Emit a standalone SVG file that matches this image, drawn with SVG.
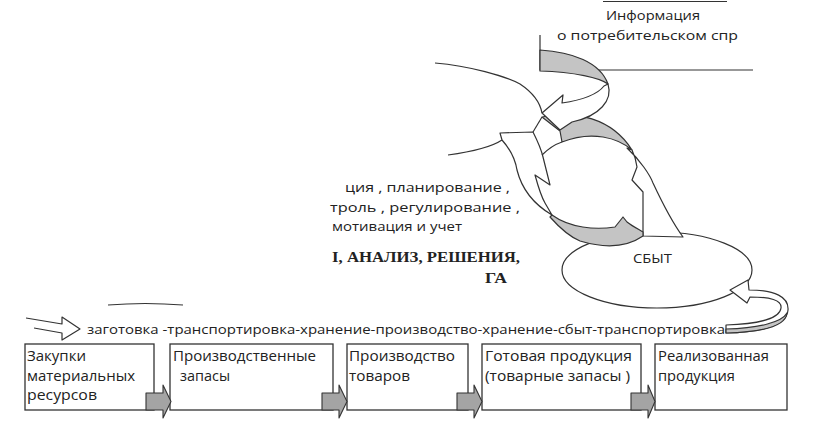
<svg xmlns="http://www.w3.org/2000/svg" width="814" height="439" viewBox="0 0 814 439">
<style>
.ln{fill:none;stroke:#333;stroke-width:1.2;stroke-linejoin:round}
.wf{fill:#fff;stroke:#333;stroke-width:1.2;stroke-linejoin:round}
.gf{fill:#c4c4c4;stroke:#333;stroke-width:1.2;stroke-linejoin:round}
.box{fill:#fff;stroke:#333;stroke-width:1.3}
.ba{fill:#a4a4a4;stroke:#333;stroke-width:1.1;stroke-linejoin:round}
.t{font-family:"Open Sans","Noto Sans","Liberation Sans",sans-serif;font-size:14px;fill:#222}
.s{font-family:"Open Sans","Noto Sans","Liberation Sans",sans-serif;font-size:13px;fill:#222}
.b{font-family:"Liberation Serif","Times New Roman",serif;font-size:15px;font-weight:bold;fill:#222}
</style>
<rect width="814" height="439" fill="#fff"/>

<!-- large background ellipse fragments -->
<g id="big-ellipse">
<path class="ln" d="M435,63 C470,66 505,76 520,84 C532,92 540,102 542,113"/>
<path class="ln" d="M448,155 C470,152 490,148 502,140"/>
<path class="ln" d="M108,305 Q145,302 183,305" stroke-width="1.6"/>
</g>

<g id="info-box">
<path class="ln" d="M603,1.5 H727"/>
<path class="ln" d="M540,35 V70 H753"/>
<text class="s" x="606" y="20" textLength="94" lengthAdjust="spacingAndGlyphs">Информация</text>
<text class="s" x="557" y="40" textLength="181" lengthAdjust="spacingAndGlyphs">о потребительском спр</text>
</g>

<g id="sbyt">
<ellipse class="wf" cx="657" cy="270" rx="95" ry="38"/>
<text class="s" x="633" y="263" textLength="39" lengthAdjust="spacingAndGlyphs">СБЫТ</text>
</g>

<g id="functions">
<text class="s" x="345" y="192" textLength="165" lengthAdjust="spacingAndGlyphs">ция , планирование ,</text>
<text class="s" x="330" y="212" textLength="190" lengthAdjust="spacingAndGlyphs">троль , регулирование ,</text>
<text class="s" x="332" y="231" textLength="130" lengthAdjust="spacingAndGlyphs">мотивация  и учет</text>
<text class="b" x="332" y="262" textLength="188" lengthAdjust="spacingAndGlyphs">I, АНАЛИЗ, РЕШЕНИЯ,</text>
<text class="b" x="485" y="283" textLength="22" lengthAdjust="spacingAndGlyphs">ГА</text>
</g>

<g id="connectors">
<!-- cycle: top gray band -->
<path class="gf" d="M542,117 C575,110 612,118 632,150 C618,138 592,130 562,142 L560,131 Z"/>
<!-- cycle: left white arrow -->
<path class="wf" d="M500,133 L533,132 C537,140 541,148 543,157 L550,185 L535,175 C538,186 541,196 545,203 L552,215 C535,205 522,190 517,170 C515,158 511,150 502,140 Z"/>
<path class="ln" d="M533,132 L542,117"/>
<path class="ln" d="M562,142 C553,145 547,150 542,155"/>
<!-- cycle: right white arrow -->
<path class="wf" d="M627,148 C640,160 650,175 653,183 C660,198 672,222 683,237 L643,236 L643,192 L632,180 L637,167 C636,160 634,154 632,150 Z"/>
<!-- cycle: bottom gray band -->
<path class="gf" d="M552,215 C570,228 595,230 615,227 L623,217 L627,222 C632,226 638,229 643,232 L643,236 C630,245 610,250 580,241 C568,236 558,226 550,217 Z"/>
<!-- ribbon arrow from info box -->
<path class="gf" d="M540,50 C572,52 600,62 608,84 C600,78 575,72 540,71 Z"/>
<path class="wf" d="M608,84 C613,100 600,116 572,122 L560,130 L542,113 L563,95 L562,103 C582,100 597,95 604,86 Z"/>
<!-- ribbon arrow from flow line to SBYT -->
<path class="wf" d="M726,325 C760,324 780,318 781,308 C782,300 770,297 750,297 L747,303 L730,290 L748,280 L749,290 C775,290 789,297 788,310 C787,324 765,332 726,333 Z"/>
<path class="gf" d="M726,329 C760,328 782,322 787,313 C786,325 765,332 726,333 Z"/>
<!-- hollow arrow at start of flow line -->
<path class="ln" d="M26,318 L62,324 L62,317 L80,329 L62,340 L62,333 L34,328"/>
<!-- block arrows between boxes -->
</g>

<text id="flow" class="s" x="87" y="334" font-size="13.5" textLength="638" lengthAdjust="spacingAndGlyphs">заготовка -транспортировка-хранение-производство-хранение-сбыт-транспортировка</text>

<g id="box1">
<rect class="box" x="25" y="344" width="129" height="66"/>
<text class="t" x="27" y="361" textLength="59" lengthAdjust="spacingAndGlyphs">Закупки</text>
<text class="t" x="27" y="381" textLength="108" lengthAdjust="spacingAndGlyphs">материальных</text>
<text class="t" x="27" y="400" textLength="70" lengthAdjust="spacingAndGlyphs">ресурсов</text>
</g>
<g id="box2">
<rect class="box" x="170" y="344" width="163" height="66"/>
<text class="t" x="173" y="361" textLength="143" lengthAdjust="spacingAndGlyphs">Производственные</text>
<text class="t" x="180" y="381" textLength="50" lengthAdjust="spacingAndGlyphs">запасы</text>
</g>
<g id="box3">
<rect class="box" x="347" y="344" width="121" height="66"/>
<text class="t" x="349" y="361" textLength="106" lengthAdjust="spacingAndGlyphs">Производство</text>
<text class="t" x="349" y="381" textLength="61" lengthAdjust="spacingAndGlyphs">товаров</text>
</g>
<g id="box4">
<rect class="box" x="482" y="344" width="159" height="66"/>
<text class="t" x="485" y="361" textLength="147" lengthAdjust="spacingAndGlyphs">Готовая  продукция</text>
<text class="t" x="485" y="381" textLength="145" lengthAdjust="spacingAndGlyphs">(товарные  запасы )</text>
</g>
<g id="box5">
<rect class="box" x="655" y="344" width="132" height="66"/>
<text class="t" x="658" y="361" textLength="111" lengthAdjust="spacingAndGlyphs">Реализованная</text>
<text class="t" x="658" y="381" textLength="77" lengthAdjust="spacingAndGlyphs">продукция</text>
</g>

<g id="block-arrows">
<path class="ba" d="M146,393 H163 V385 L171,401.5 L163,418 V410 H146 Z"/>
<path class="ba" d="M322,393 H339 V385 L347,401.5 L339,418 V410 H322 Z"/>
<path class="ba" d="M457,393 H474 V385 L482,401.5 L474,418 V410 H457 Z"/>
<path class="ba" d="M631,393 H648 V385 L655,401.5 L648,418 V410 H631 Z"/>
</g>
</svg>
